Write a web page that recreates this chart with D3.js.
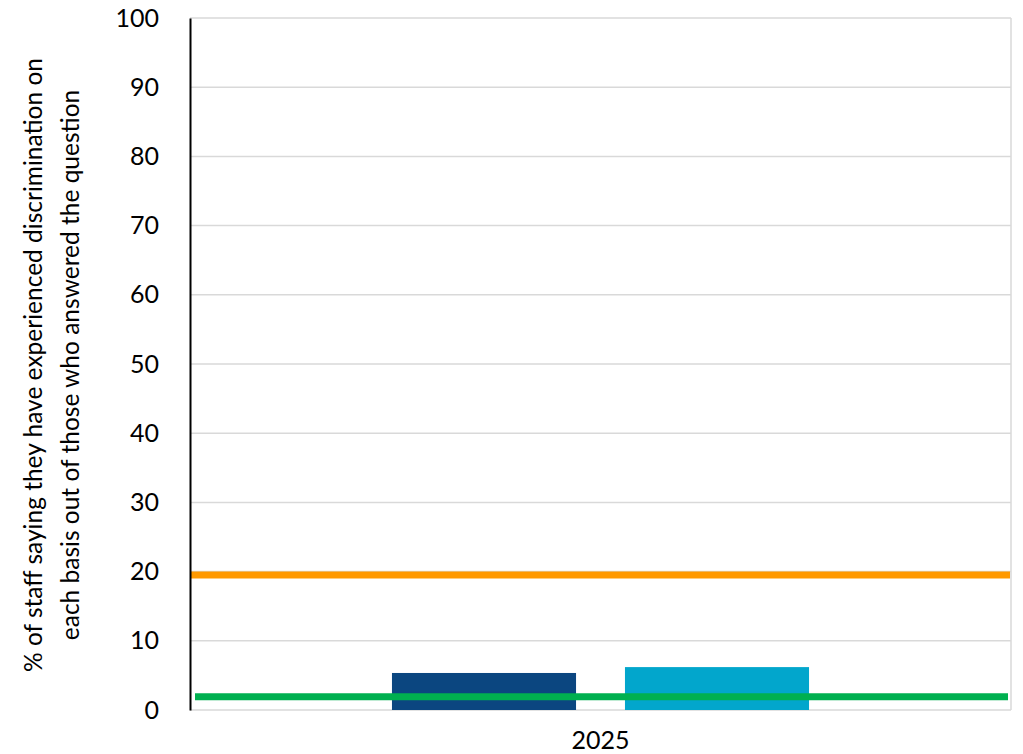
<!DOCTYPE html>
<html>
<head>
<meta charset="utf-8">
<script src="https://cdn.jsdelivr.net/npm/d3@7"></script>
<style>
  html, body { margin: 0; padding: 0; background: #fff; }
  svg text { font-family: Lato, "Open Sans", sans-serif; fill: #000; }
</style>
</head>
<body>
<svg id="chart" width="1023" height="754"></svg>
<script>
// Discrimination survey results, 2025
const categories = ["2025"];
const barSeries = ["Group A", "Group B"];
const barValues = [5.35, 6.2];
const barColors = ["#0b4680", "#02a6cc"];
const refLineValues = [19.5, 1.9];
const refLineColors = ["#ff9900", "#00b050"];
const yTicks = [0, 10, 20, 30, 40, 50, 60, 70, 80, 90, 100];
const yTitleLines = [
  "% of staff saying they have experienced discrimination on",
  "each basis out of those who answered the question"
];

const svg = d3.select("#chart");
const margin = { left: 190, right: 12, top: 18, bottom: 44 };
const W = 1023, H = 754;

const x = d3.scaleBand().domain(categories).range([margin.left, W - margin.right]);
const xInner = d3.scaleBand().domain(barSeries)
  .range([x.bandwidth() * 0.246, x.bandwidth() * 0.754]).paddingInner(0.21);
const y = d3.scaleLinear().domain([0, 100]).range([H - margin.bottom, margin.top]);

// gridlines
svg.append("g").selectAll("line").data(yTicks).join("line")
  .attr("x1", margin.left).attr("x2", W - margin.right)
  .attr("y1", d => y(d)).attr("y2", d => y(d))
  .attr("stroke", "#d9d9d9").attr("stroke-width", 1.5);

// right border of plot area
svg.append("line")
  .attr("x1", W - margin.right).attr("x2", W - margin.right)
  .attr("y1", y(100)).attr("y2", y(0))
  .attr("stroke", "#d9d9d9").attr("stroke-width", 1.5);

// bars
const groups = svg.append("g").selectAll("g").data(categories).join("g")
  .attr("transform", d => `translate(${x(d)},0)`);
groups.selectAll("rect").data(barSeries.map((s, i) => ({ s, v: barValues[i], c: barColors[i] })))
  .join("rect")
  .attr("x", d => xInner(d.s)).attr("width", xInner.bandwidth())
  .attr("y", d => y(d.v)).attr("height", d => y(0) - y(d.v))
  .attr("fill", d => d.c);

// reference lines
svg.append("g").selectAll("line").data(refLineValues).join("line")
  .attr("x1", (d, i) => i === 0 ? margin.left : margin.left + 5)
  .attr("x2", (d, i) => i === 0 ? W - margin.right - 1 : W - margin.right - 3)
  .attr("y1", d => y(d)).attr("y2", d => y(d))
  .attr("stroke", (d, i) => refLineColors[i]).attr("stroke-width", 7);

// y axis
const yAxis = d3.axisLeft(y).tickValues(yTicks).tickSize(0).tickPadding(31);
const gy = svg.append("g").attr("transform", `translate(${margin.left},0)`).call(yAxis);
gy.select(".domain").attr("stroke", "#000").attr("stroke-width", 2);
gy.selectAll("text").style("font-size", "25px").style("font-family", "Lato, sans-serif").attr("fill", "#000");

// x axis labels
const xAxis = d3.axisBottom(x).tickSize(0).tickPadding(21);
const gx = svg.append("g").attr("transform", `translate(0,${y(0)})`).call(xAxis);
gx.select(".domain").remove();
gx.selectAll("text").style("font-size", "25px").style("font-family", "Lato, sans-serif").attr("fill", "#000");

// y axis title
svg.append("text")
  .attr("transform", `translate(42,365) rotate(-90)`)
  .attr("text-anchor", "middle")
  .style("font-size", "24.5px")
  .selectAll("tspan").data(yTitleLines).join("tspan")
  .attr("x", 0).attr("dy", (d, i) => i === 0 ? 0 : 37)
  .text(d => d);
</script>
</body>
</html>
